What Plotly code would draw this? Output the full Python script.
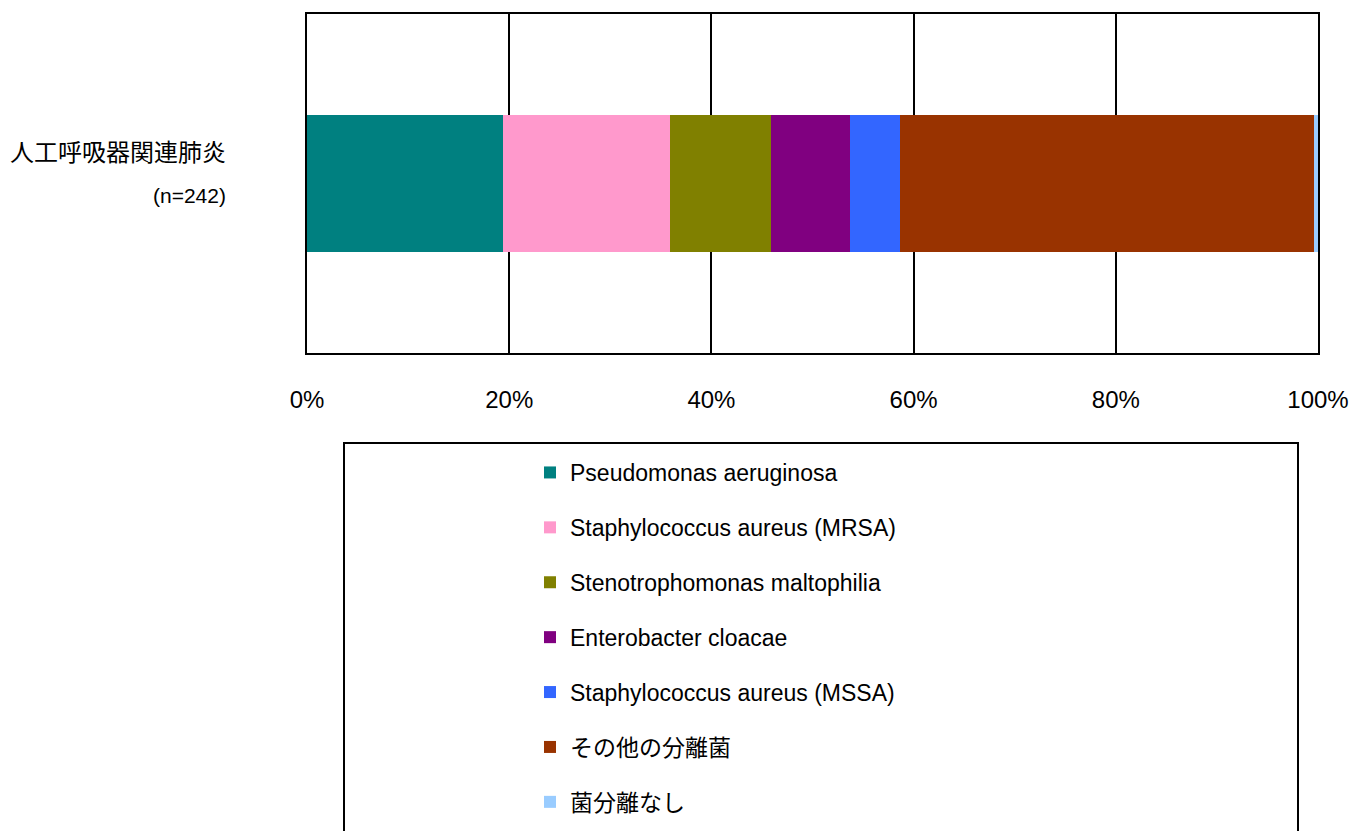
import plotly.graph_objects as go

# Isolated organisms, ventilator-associated pneumonia (n=242)
category = ["人工呼吸器関連肺炎"]
n_label = "(n=242)"
organisms = [
    "Pseudomonas aeruginosa",
    "Staphylococcus aureus (MRSA)",
    "Stenotrophomonas maltophilia",
    "Enterobacter cloacae",
    "Staphylococcus aureus (MSSA)",
    "その他の分離菌",
    "菌分離なし",
]
counts = [47, 40, 24, 19, 12, 99, 1]
colors = ["#008080", "#FF99CC", "#808000", "#800080", "#3366FF", "#993300", "#99CCFF"]
tick_vals = [0, 20, 40, 60, 80, 100]
tick_text = ["0%", "20%", "40%", "60%", "80%", "100%"]

total = sum(counts)
shares = [c / total * 100 for c in counts]

fig = go.Figure()
for i, (name, val, col) in enumerate(zip(organisms, shares, colors)):
    fig.add_trace(go.Bar(
        y=category, x=[val], name=name, orientation="h",
        marker=dict(color=col, line=dict(width=0)),
        legendgroup=str(i), hoverinfo="name+x",
    ))

latin = "Liberation Sans, Arial, Noto Sans CJK JP, sans-serif"
cjk = "Noto Sans CJK JP, Liberation Sans, sans-serif"

fig.update_layout(
    width=1351, height=831,
    margin=dict(l=307, r=33, t=14, b=478, autoexpand=False),
    barmode="stack", bargap=0.596,
    plot_bgcolor="white", paper_bgcolor="white",
    font=dict(family=latin, color="black"),
    xaxis=dict(
        range=[0, 100], tickvals=tick_vals, ticktext=tick_text,
        showgrid=True, gridcolor="black", gridwidth=2,
        showline=True, linecolor="black", linewidth=2, mirror=True,
        zeroline=False, ticks="", ticklabelstandoff=24,
        tickfont=dict(family=latin, size=24, color="black"),
        automargin=False, fixedrange=True,
    ),
    yaxis=dict(
        range=[-0.5, 0.5], showticklabels=False, showgrid=False,
        showline=True, linecolor="black", linewidth=2, mirror=True,
        zeroline=False, ticks="", automargin=False, fixedrange=True,
    ),
    legend=dict(
        x=(530 - 307) / 1011, xanchor="left",
        y=(353 - 451) / 339, yanchor="top",
        bgcolor="rgba(0,0,0,0)", borderwidth=0,
        tracegroupgap=22, traceorder="grouped",
        font=dict(family=latin, size=23, color="black"),
    ),
    showlegend=True,
)

# Legend frame
fig.add_shape(
    type="rect", xref="paper", yref="paper",
    x0=(344 - 307) / 1011, x1=(1298 - 307) / 1011,
    y0=(353 - 443) / 339, y1=(353 - 900) / 339,
    line=dict(color="black", width=2), fillcolor="rgba(0,0,0,0)",
)

# Category label with sample size
fig.add_annotation(
    xref="paper", yref="paper", x=(228 - 307) / 1011, y=(353 - 150) / 339,
    xanchor="right", yanchor="middle", showarrow=False,
    text=category[0], font=dict(family=cjk, size=24, color="black"),
)
fig.add_annotation(
    xref="paper", yref="paper", x=(228 - 307) / 1011, y=(353 - 195) / 339,
    xanchor="right", yanchor="middle", showarrow=False,
    text=n_label, font=dict(family=latin, size=21, color="black"),
)

fig.write_html("out.html")
